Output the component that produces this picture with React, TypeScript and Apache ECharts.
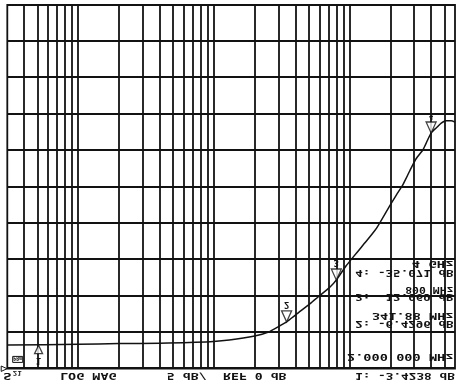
import React, { useEffect, useRef } from "react";
import * as echarts from "echarts";

// ---- data (frequency in MHz, magnitude in dB) ----
const FREQ_MHZ = [3, 10, 20, 40, 94, 130, 200, 250, 307, 344, 407, 510, 600, 716, 800, 950, 1260, 1580, 1980, 2220, 2480, 2800, 3110, 3480, 4000, 4480, 4750, 5170, 5620, 6000];
const S21_DB = [-3.25, -3.35, -3.45, -3.5, -3.7, -3.95, -4.5, -5.0, -5.9, -6.43, -7.5, -8.9, -10.0, -11.2, -12.2, -14.2, -17.0, -19.3, -22.4, -23.9, -25.3, -27.3, -28.9, -30.1, -32.4, -33.3, -33.75, -34.1, -34.1, -33.9];

// log-paper vertical rulings (MHz)
const GRID_FREQS = [4, 5, 6, 7, 8, 9, 10, 20, 30, 40, 50, 60, 70, 80, 90, 100, 200, 300, 400, 500, 600, 700, 800, 900, 1000, 2000, 3000, 4000, 5000];

const MARKER_NAMES = ["1", "2", "3", "4"];
const MARKER_FREQ = [5.1, 344, 800, 4000];
const MARKER_DB = [-3.3, -6.43, -12.2, -32.4];

const HEADER = ["S", "21", "LOG MAG", "5 dB/", "REF 0 dB", "1: -3.4238 dB"];
const READOUTS = ["2.000 000 MHz", "2: -6.4296 dB", "341.88 MHz", "3: -12.069 dB", "800 MHz", "4: -35.071 dB", "4 GHz"];

const X_MIN = 3;
const X_MAX = 6000;
const Y_MIN = -50;
const Y_MAX = 0;
const Y_STEP = 5;

const INK = "#121212";
const MONO = "DejaVu Sans Mono";

function stretchedText(s: string, x: number, y: number, w: number, align: string, fs: number) {
  const natural = s.length * 0.602 * fs;
  return {
    type: "text",
    x,
    y,
    scaleX: w / natural,
    silent: true,
    z: 10,
    style: {
      text: s,
      fontFamily: MONO,
      fontWeight: "bold",
      fontSize: fs,
      fill: INK,
      align,
      verticalAlign: "middle",
    },
  };
}

export default function App() {
  const ref = useRef<HTMLDivElement>(null);

  useEffect(() => {
    if (!ref.current) return;
    const chart = echarts.init(ref.current, null, { renderer: "svg" });

    const headerLayout = [
      { x: 3.3, y: 9.2, w: 8.4, fs: 8 },
      { x: 12.7, y: 11.8, w: 9, fs: 6.5 },
      { x: 60, y: 9.2, w: 56.7, fs: 8 },
      { x: 166.7, y: 9.2, w: 40, fs: 8 },
      { x: 223, y: 9.2, w: 63.7, fs: 8 },
      { x: 355, y: 9.2, w: 100, fs: 8 },
    ];
    const readoutLayout = [
      { y: 28, w: 106.7 },
      { y: 61.2, w: 98.3 },
      { y: 69, w: 81.7 },
      { y: 87.5, w: 98.3 },
      { y: 95.5, w: 48.3 },
      { y: 112.2, w: 98.3 },
      { y: 121.5, w: 41.7 },
    ];

    const graphics: any[] = [];
    HEADER.forEach((s, i) => {
      const l = headerLayout[i];
      graphics.push(stretchedText(s, l.x, l.y, l.w, "left", l.fs));
    });
    READOUTS.forEach((s, i) => {
      const l = readoutLayout[i];
      graphics.push(stretchedText(s, 453.5, l.y, l.w, "right", 8));
    });
    // reference-level pointer
    graphics.push({
      type: "polygon",
      silent: true,
      shape: { points: [[1.2, 13.6], [1.2, 19], [7, 16.3]] },
      style: { fill: "#fff", stroke: INK, lineWidth: 1 },
    });
    // small annotation box
    graphics.push({
      type: "rect",
      silent: true,
      z: 10,
      shape: { x: 12.7, y: 22.6, width: 10, height: 6 },
      style: { fill: "#fff", stroke: INK, lineWidth: 1 },
    });
    graphics.push({
      type: "text",
      silent: true,
      z: 11,
      x: 17.7,
      y: 25.7,
      style: { text: "PRm", fontFamily: MONO, fontWeight: "bold", fontSize: 5, fill: INK, align: "center", verticalAlign: "middle" },
    });

    const markerData = MARKER_NAMES.map((n, i) => {
      const above = i === 0;
      const size = above ? [8, 8.5] : [10, 11];
      return {
        name: n,
        value: [MARKER_FREQ[i], MARKER_DB[i]],
        symbol: above ? "path://M0,10L-5,0L5,0Z" : "triangle",
        symbolSize: size,
        symbolOffset: [0, above ? -size[1] / 2 - 0.5 : size[1] / 2],
      };
    });

    chart.setOption({
      animation: false,
      backgroundColor: "#fff",
      grid: {
        left: 7.3,
        right: 10,
        top: 16.3,
        bottom: 5,
        show: true,
        borderColor: INK,
        borderWidth: 1.8,
        backgroundColor: "#fff",
        containLabel: false,
        outerBoundsMode: "none",
      },
      xAxis: {
        type: "log",
        logBase: 10,
        min: X_MIN,
        max: X_MAX,
        axisLine: { show: false },
        axisTick: { show: false },
        axisLabel: { show: false },
        splitLine: { show: false },
        minorSplitLine: { show: false },
      },
      yAxis: {
        type: "value",
        min: Y_MIN,
        max: Y_MAX,
        interval: Y_STEP,
        axisLine: { show: false },
        axisTick: { show: false },
        axisLabel: { show: false },
        splitLine: { show: true, lineStyle: { color: INK, width: 1.8 } },
      },
      series: [
        {
          type: "line",
          data: FREQ_MHZ.map((f, i) => [f, S21_DB[i]]),
          showSymbol: false,
          symbol: "none",
          silent: true,
          smooth: 0.2,
          lineStyle: { color: INK, width: 1.5 },
          z: 3,
          markLine: {
            silent: true,
            symbol: ["none", "none"],
            label: { show: false },
            lineStyle: { color: INK, width: 1.8, type: "solid" },
            emphasis: { disabled: true },
            data: GRID_FREQS.map((f) => ({ xAxis: f })),
            z: 1,
          },
        },
        {
          type: "scatter",
          data: markerData,
          silent: true,
          z: 4,
          itemStyle: { color: "#fff", borderColor: INK, borderWidth: 1.3 },
        },
      ],
      graphic: { elements: graphics },
    });

    // marker numbers, placed through the chart's own scales
    const labelEls = MARKER_NAMES.map((n, i) => {
      const p = chart.convertToPixel({ gridIndex: 0 }, [MARKER_FREQ[i], MARKER_DB[i]]) as number[];
      const above = i === 0;
      const fs = i === 3 ? 7 : 9;
      return {
        type: "text",
        silent: true,
        z: 12,
        x: p[0],
        y: above ? p[1] - 9.5 - 2 - fs / 2 - 0.5 : p[1] + 11 + 1.5 + fs / 2,
        style: {
          text: n,
          fontFamily: MONO,
          fontWeight: "bold",
          fontSize: fs,
          fill: INK,
          align: "center",
          verticalAlign: "middle",
        },
      };
    });
    chart.setOption({ graphic: { elements: graphics.concat(labelEls) } });

    return () => chart.dispose();
  }, []);

  return (
    <div
      ref={ref}
      style={{
        position: "fixed",
        left: 0,
        top: 0,
        width: 465,
        height: 385,
        transform: "scaleY(-1)",
        background: "#fff",
      }}
    />
  );
}
